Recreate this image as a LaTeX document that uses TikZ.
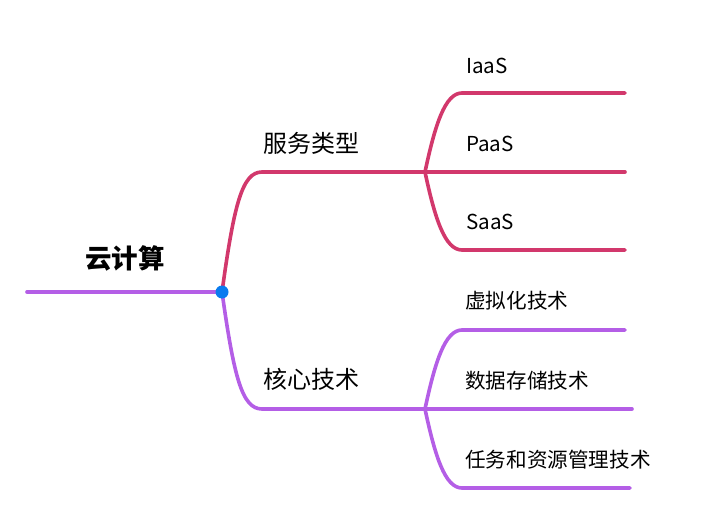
\documentclass[tikz,border=0pt]{standalone}
\usepackage{fontspec}
\newfontfamily\cjk{Noto Sans CJK SC}
\definecolor{svcred}{HTML}{D2386C}
\definecolor{corepurple}{HTML}{B45EE6}
\definecolor{hubblue}{HTML}{0A7BEF}

\begin{document}
\begin{tikzpicture}[x=1pt, y=-1pt,
    branch/.style={line width=3.6pt, line cap=round},
    rootlabel/.style={font=\cjk\fontsize{26.5}{30}\selectfont\bfseries},
    toplabel/.style={anchor=west, inner sep=0pt, font=\cjk\fontsize{24}{27}\selectfont},
    leaflabel/.style={anchor=west, inner sep=0pt, font=\cjk\fontsize{20.6}{24}\selectfont}]
    \useasboundingbox (0,0) rectangle (720,516);
    % junctions
    \coordinate (start) at (27,292);
    \coordinate (hub) at (222,292);
    \coordinate (svc) at (262,172);
    \coordinate (svcfork) at (425,172);
    \coordinate (core) at (262,409);
    \coordinate (corefork) at (425,409);
    \coordinate (iaas) at (462,93);
    \coordinate (iaasend) at (625,93);
    \coordinate (paasend) at (625,172);
    \coordinate (saas) at (462,250);
    \coordinate (saasend) at (625,250);
    \coordinate (virt) at (462,330);
    \coordinate (virtend) at (625,330);
    \coordinate (storeend) at (632,409);
    \coordinate (sched) at (462,488);
    \coordinate (schedend) at (630,488);
    % root
    \draw[branch, corepurple] (start) -- (hub);
    \node[rootlabel] (cloud) at (125,258) {云计算};
    % service types
    \draw[branch, svcred] (hub) .. controls (234,205) and (242,172) .. (svc) -- (svcfork);
    \draw[branch, svcred] (svcfork) .. controls (435,125) and (445,93) .. (iaas) -- (iaasend);
    \draw[branch, svcred] (svcfork) -- (paasend);
    \draw[branch, svcred] (svcfork) .. controls (435,219) and (445,250) .. (saas) -- (saasend);
    \node[toplabel] (types) at (263,143) {服务类型};
    \node[leaflabel] (iaaslabel) at (466,66) {IaaS};
    \node[leaflabel] (paaslabel) at (466,144) {PaaS};
    \node[leaflabel] (saaslabel) at (466,222) {SaaS};
    % core techniques
    \draw[branch, corepurple] (hub) .. controls (234,377) and (242,409) .. (core) -- (corefork);
    \draw[branch, corepurple] (corefork) .. controls (435,362) and (445,330) .. (virt) -- (virtend);
    \draw[branch, corepurple] (corefork) -- (storeend);
    \draw[branch, corepurple] (corefork) .. controls (435,456) and (445,488) .. (sched) -- (schedend);
    \node[toplabel] (tech) at (263,379) {核心技术};
    \node[leaflabel] (virtlabel) at (465,301) {虚拟化技术};
    \node[leaflabel] (storelabel) at (465,381) {数据存储技术};
    \node[leaflabel] (schedlabel) at (465,460) {任务和资源管理技术};
    \fill[hubblue] (hub) circle (6.5);
\end{tikzpicture}
\end{document}
